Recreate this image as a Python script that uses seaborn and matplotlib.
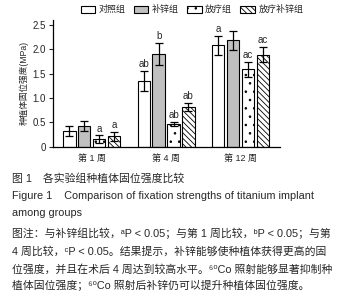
import matplotlib
matplotlib.use("Agg")
import matplotlib.pyplot as plt
from matplotlib.patches import Patch
import seaborn as sns
import pandas as pd
import numpy as np

weeks = ["第 1 周", "第 4 周", "第 12 周"]
groups = ["对照组", "补锌组", "放疗组", "放疗补锌组"]
means = {
    "对照组": [0.32, 1.35, 2.08],
    "补锌组": [0.42, 1.90, 2.18],
    "放疗组": [0.15, 0.47, 1.59],
    "放疗补锌组": [0.21, 0.81, 1.89],
}
errs = {
    "对照组": [0.11, 0.21, 0.20],
    "补锌组": [0.10, 0.22, 0.20],
    "放疗组": [0.08, 0.04, 0.15],
    "放疗补锌组": [0.10, 0.08, 0.16],
}
letters = {
    "对照组": ["", "ab", "a"],
    "补锌组": ["", "b", ""],
    "放疗组": ["a", "ab", "ac"],
    "放疗补锌组": ["a", "ab", "ac"],
}
yticks = [0, 0.5, 1.0, 1.5, 2.0, 2.5]
ytick_labels = ["0", "0.5", "1.0", "1.5", "2.0", "2.5"]

FAM = ['Liberation Sans', 'Noto Sans CJK SC', 'DejaVu Sans']

sns.set_theme(style="ticks")
plt.rcParams['font.family'] = FAM
plt.rcParams['hatch.linewidth'] = 0.6

rows = []
for g in groups:
    for i, w in enumerate(weeks):
        rows.append({"week": w, "group": g, "value": means[g][i]})
df = pd.DataFrame(rows)

fig = plt.figure(figsize=(3.43, 2.96), dpi=100)
ax = fig.add_axes([0.1545, 0.5044, 0.6615, 0.428])

colors = ["white", "#c0c0c0", "white", "white"]
sns.barplot(data=df, x="week", y="value", hue="group", order=weeks, hue_order=groups,
            palette=colors, errorbar=None, width=0.8, gap=0.16, edgecolor="black",
            linewidth=0.8, legend=False, ax=ax)

hatches = [None, None, "..", "\\\\\\\\\\\\"]
for ci, (cont, g) in enumerate(zip(ax.containers, groups)):
    for i, bar in enumerate(cont):
        if hatches[ci]:
            bar.set_hatch(hatches[ci])
        xc = bar.get_x() + bar.get_width() / 2
        h = bar.get_height()
        e = errs[g][i]
        ax.errorbar(xc, h, yerr=e, fmt="none", ecolor="black", elinewidth=0.9,
                    capsize=3, capthick=0.9)
        if letters[g][i]:
            ax.text(xc, h + e + 0.04, letters[g][i], ha="center", va="bottom",
                    fontsize=7, family=FAM)

ax.set_xlim(-0.52, 2.53)
ax.set_ylim(0, 2.6)
ax.set_yticks(yticks)
ax.set_yticklabels(ytick_labels, fontsize=7, family=FAM)
ax.tick_params(axis="y", length=3, width=0.8, pad=2)
ax.tick_params(axis="x", length=0, labelsize=6.5, pad=5)
ax.set_xlabel("")
ax.set_ylabel("种植体固位强度(MPa)", fontsize=6.2, labelpad=3)
sns.despine(ax=ax)
for s in ["left", "bottom"]:
    ax.spines[s].set_linewidth(0.9)
    ax.spines[s].set_color("black")

handles = [Patch(facecolor=colors[i], edgecolor="black", linewidth=0.8,
                 hatch=hatches[i]) for i in range(4)]
fig.legend(handles, groups, loc="upper center", bbox_to_anchor=(0.56, 1.01), ncol=4,
           frameon=False, fontsize=6.5, handlelength=1.6, handleheight=0.8,
           columnspacing=0.9, handletextpad=0.4)

cap = [
    (178, "图 1　各实验组种植体固位强度比较"),
    (196, "Figure 1    Comparison of fixation strengths of titanium implant"),
    (213, "among groups"),
    (233, "图注：与补锌组比较，ᵃP < 0.05；与第 1 周比较，ᵇP < 0.05；与第"),
    (251, "4 周比较，ᶜP < 0.05。结果提示，补锌能够使种植体获得更高的固"),
    (269, "位强度，并且在术后 4 周达到较高水平。⁶⁰Co 照射能够显著抑制种"),
    (286, "植体固位强度；⁶⁰Co 照射后补锌仍可以提升种植体固位强度。"),
]
for y, t in cap:
    fig.text(0.035, 1 - y / 296, t, fontsize=7.8, va="center", ha="left", family=FAM)

fig.savefig("out.png", dpi=100)
